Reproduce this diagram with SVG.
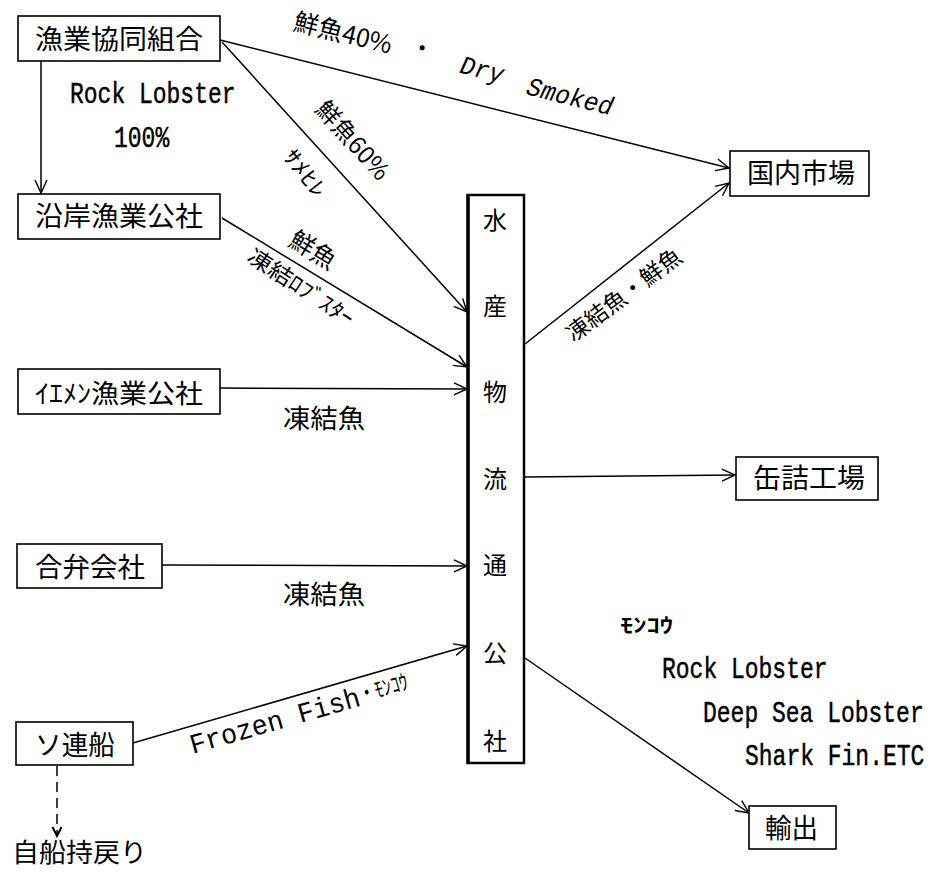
<svg xmlns="http://www.w3.org/2000/svg" width="935" height="872" viewBox="0 0 935 872">
<style>
.box{fill:#fff;stroke:#000;stroke-width:1.6}
.jp{font-family:"Noto Sans CJK JP","Noto Sans CJK SC",sans-serif;fill:#000}
.en{font-family:"Liberation Mono","DejaVu Sans Mono",monospace;fill:#000}
.tw{font-family:"Liberation Mono","DejaVu Sans Mono",monospace;fill:#000;font-size:23px;stroke:#000;stroke-width:0.35}
.ln{fill:none;stroke:#000;stroke-width:1.5}
</style>
<defs>
<marker id="arr" viewBox="-14 -8 16 16" markerWidth="16" markerHeight="16" refX="0" refY="0" orient="auto" markerUnits="userSpaceOnUse">
<path d="M-13,-6 L0,0 L-13,6" fill="none" stroke="#000" stroke-width="1.4"/>
</marker>
<marker id="arrd" viewBox="-10 -6 12 12" markerWidth="12" markerHeight="12" refX="0" refY="0" orient="auto" markerUnits="userSpaceOnUse">
<path d="M-9,-4.5 L0,0 L-9,4.5" fill="none" stroke="#000" stroke-width="2"/>
</marker>
</defs>
<rect width="935" height="872" fill="#fff"/>

<g id="connectors">
<line class="ln" x1="41" y1="61" x2="41" y2="193" marker-end="url(#arr)"/>
<line class="ln" x1="220" y1="40" x2="729" y2="168" marker-end="url(#arr)"/>
<line class="ln" x1="222" y1="42" x2="467" y2="312" marker-end="url(#arr)"/>
<line class="ln" x1="222" y1="218" x2="467" y2="367" marker-end="url(#arr)"/>
<line class="ln" x1="220" y1="388" x2="467" y2="389" marker-end="url(#arr)"/>
<line class="ln" x1="162" y1="565" x2="467" y2="566" marker-end="url(#arr)"/>
<line class="ln" x1="133" y1="743" x2="467" y2="646" marker-end="url(#arr)"/>
<line class="ln" x1="525" y1="344" x2="729" y2="183" marker-end="url(#arr)"/>
<line class="ln" x1="525" y1="477" x2="735" y2="475" marker-end="url(#arr)"/>
<line class="ln" x1="525" y1="658" x2="749" y2="813" marker-end="url(#arr)"/>
<line class="ln" x1="57" y1="766" x2="57" y2="836" stroke-width="2" stroke-dasharray="10,6" marker-end="url(#arrd)"/>
</g>

<g id="labels">
<text class="tw" transform="translate(70,103) scale(1,1.3)">Rock Lobster</text>
<text class="tw" transform="translate(114,147) scale(1,1.3)">100%</text>
<g transform="translate(343,33) rotate(14)"><text class="jp" x="0" y="9" font-size="25" text-anchor="middle">鮮魚40%</text></g>
<g transform="translate(422,48) rotate(14)"><text class="jp" x="0" y="9" font-size="24" text-anchor="middle">・</text></g>
<g transform="translate(482,70) rotate(14)"><text class="en" x="-22" y="8" font-size="26" font-style="italic" textLength="44" lengthAdjust="spacingAndGlyphs">Dry</text></g>
<g transform="translate(570,97) rotate(14)"><text class="en" x="-44" y="8" font-size="26" font-style="italic" textLength="88" lengthAdjust="spacingAndGlyphs">Smoked</text></g>
<g transform="translate(353,140) rotate(48)"><text class="jp" x="0" y="9" font-size="24" text-anchor="middle">鮮魚60%</text></g>
<g transform="translate(305,173) rotate(52)"><text class="jp" x="-27" y="8" font-size="22" textLength="54" lengthAdjust="spacingAndGlyphs">ｻﾒﾋﾚ</text></g>
<g transform="translate(313,250) rotate(31)"><text class="jp" x="0" y="9" font-size="25" text-anchor="middle">鮮魚</text></g>
<g transform="translate(301,287) rotate(33)"><text class="jp" x="-61" y="8" font-size="22" textLength="122" lengthAdjust="spacingAndGlyphs">凍結ﾛﾌﾞｽﾀｰ</text></g>
<text class="jp" x="283" y="428" font-size="26" textLength="82" lengthAdjust="spacingAndGlyphs">凍結魚</text>
<text class="jp" x="283" y="604" font-size="26" textLength="82" lengthAdjust="spacingAndGlyphs">凍結魚</text>
<g transform="translate(296,715) rotate(-16)">
<text class="en" x="-110" y="9" font-size="28" textLength="176" lengthAdjust="spacingAndGlyphs">Frozen Fish</text>
<text class="jp" x="66" y="6" font-size="22" textLength="50" lengthAdjust="spacingAndGlyphs">・ﾓﾝｺｳ</text>
</g>
<g transform="translate(624,295) rotate(-37)"><text class="jp" x="-69" y="8" font-size="23" textLength="138" lengthAdjust="spacingAndGlyphs">凍結魚・鮮魚</text></g>
<text class="jp" x="620" y="633" font-size="20" font-weight="bold" textLength="53" lengthAdjust="spacingAndGlyphs">ﾓﾝｺｳ</text>
<text class="tw" transform="translate(662,678) scale(1,1.3)">Rock Lobster</text>
<text class="tw" transform="translate(703,722) scale(1,1.3)">Deep Sea Lobster</text>
<text class="tw" transform="translate(745,765) scale(1,1.3)">Shark Fin.ETC</text>
<text class="jp" x="12" y="862" font-size="26" textLength="135" lengthAdjust="spacingAndGlyphs">自船持戻り</text>
</g>

<g id="n1"><rect class="box" x="18" y="16" width="202" height="45"/><text class="jp" x="35" y="49" font-size="27" textLength="168" lengthAdjust="spacingAndGlyphs">漁業協同組合</text></g>
<g id="n2"><rect class="box" x="18" y="194" width="202" height="45"/><text class="jp" x="35" y="226" font-size="27" textLength="168" lengthAdjust="spacingAndGlyphs">沿岸漁業公社</text></g>
<g id="n3"><rect class="box" x="18" y="369" width="202" height="45"/><text class="jp" x="35" y="403" font-size="26" textLength="168" lengthAdjust="spacingAndGlyphs">ｲｴﾒﾝ漁業公社</text></g>
<g id="n4"><rect class="box" x="17" y="544" width="145" height="44"/><text class="jp" x="35" y="577" font-size="27" textLength="110" lengthAdjust="spacingAndGlyphs">合弁会社</text></g>
<g id="n5"><rect class="box" x="16" y="722" width="117" height="43"/><text class="jp" x="35" y="755" font-size="27" textLength="80" lengthAdjust="spacingAndGlyphs">ソ連船</text></g>
<g id="n6">
<rect x="468" y="195" width="56" height="568" fill="#fff" stroke="#000" stroke-width="2.5"/>
<line x1="468" y1="194" x2="468" y2="764" stroke="#000" stroke-width="3.5"/>
<g class="jp" font-size="24" text-anchor="middle">
<text x="495" y="229">水</text>
<text x="495" y="315">産</text>
<text x="495" y="401">物</text>
<text x="495" y="488">流</text>
<text x="495" y="574">通</text>
<text x="495" y="662">公</text>
<text x="495" y="750">社</text>
</g>
</g>
<g id="n7"><rect class="box" x="730" y="151" width="139" height="45"/><text class="jp" x="747" y="183" font-size="27" textLength="108" lengthAdjust="spacingAndGlyphs">国内市場</text></g>
<g id="n8"><rect class="box" x="736" y="457" width="142" height="43"/><text class="jp" x="753" y="488" font-size="27" textLength="112" lengthAdjust="spacingAndGlyphs">缶詰工場</text></g>
<g id="n9"><rect class="box" x="749" y="806" width="87" height="43"/><text class="jp" x="765" y="838" font-size="27" textLength="53" lengthAdjust="spacingAndGlyphs">輸出</text></g>
</svg>
